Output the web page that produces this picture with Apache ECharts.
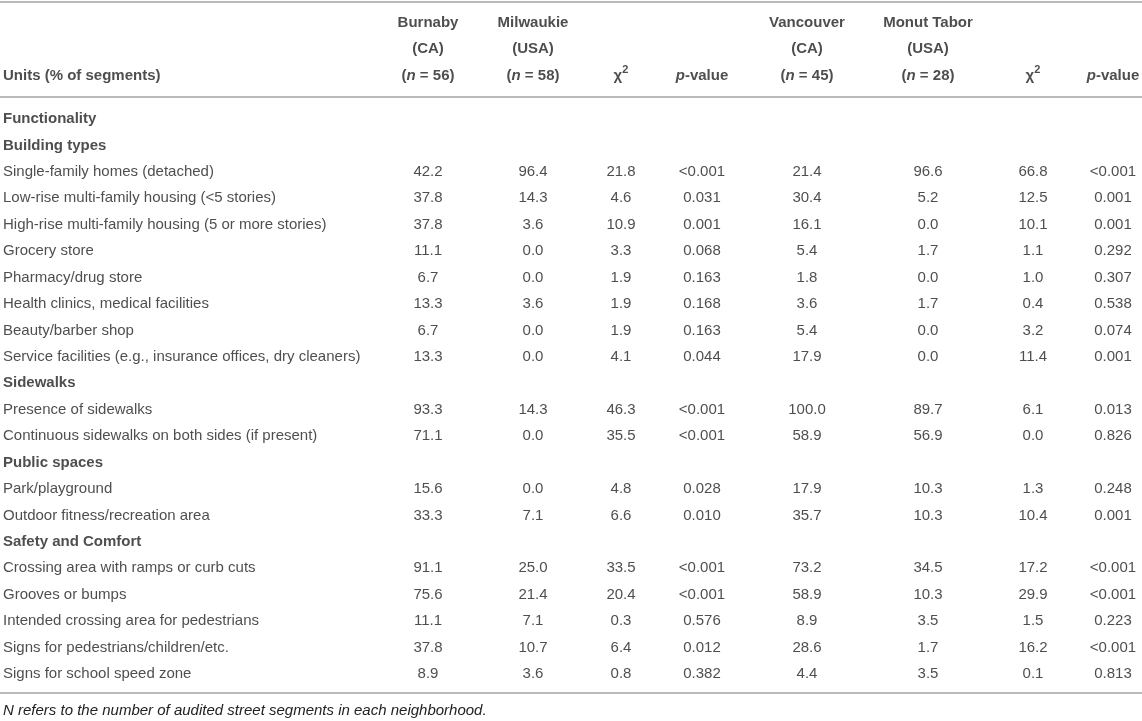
<!DOCTYPE html>
<html>
<head>
<meta charset="utf-8">
<title>Street segment audit</title>
<script src="https://cdn.jsdelivr.net/npm/echarts/dist/echarts.min.js"></script>
<style>
html, body { margin: 0; padding: 0; background: #fff; }
#main { width: 1142px; height: 721px; }
</style>
</head>
<body>
<div id="main"></div>
<script>
// 表格数据
var rowLabels = [
    'Functionality',
    'Building types',
    'Single-family homes (detached)',
    'Low-rise multi-family housing (<5 stories)',
    'High-rise multi-family housing (5 or more stories)',
    'Grocery store',
    'Pharmacy/drug store',
    'Health clinics, medical facilities',
    'Beauty/barber shop',
    'Service facilities (e.g., insurance offices, dry cleaners)',
    'Sidewalks',
    'Presence of sidewalks',
    'Continuous sidewalks on both sides (if present)',
    'Public spaces',
    'Park/playground',
    'Outdoor fitness/recreation area',
    'Safety and Comfort',
    'Crossing area with ramps or curb cuts',
    'Grooves or bumps',
    'Intended crossing area for pedestrians',
    'Signs for pedestrians/children/etc.',
    'Signs for school speed zone'
];
var sectionRows = ['Functionality', 'Building types', 'Sidewalks', 'Public spaces', 'Safety and Comfort'];

var burnaby   = [null, null, 42.2, 37.8, 37.8, 11.1, 6.7, 13.3, 6.7, 13.3, null, 93.3, 71.1, null, 15.6, 33.3, null, 91.1, 75.6, 11.1, 37.8, 8.9];
var milwaukie = [null, null, 96.4, 14.3, 3.6, 0.0, 0.0, 3.6, 0.0, 0.0, null, 14.3, 0.0, null, 0.0, 7.1, null, 25.0, 21.4, 7.1, 10.7, 3.6];
var chiA      = [null, null, 21.8, 4.6, 10.9, 3.3, 1.9, 1.9, 1.9, 4.1, null, 46.3, 35.5, null, 4.8, 6.6, null, 33.5, 20.4, 0.3, 6.4, 0.8];
var pA        = [null, null, '<0.001', '0.031', '0.001', '0.068', '0.163', '0.168', '0.163', '0.044', null, '<0.001', '<0.001', null, '0.028', '0.010', null, '<0.001', '<0.001', '0.576', '0.012', '0.382'];
var vancouver = [null, null, 21.4, 30.4, 16.1, 5.4, 1.8, 3.6, 5.4, 17.9, null, 100.0, 58.9, null, 17.9, 35.7, null, 73.2, 58.9, 8.9, 28.6, 4.4];
var tabor     = [null, null, 96.6, 5.2, 0.0, 1.7, 0.0, 1.7, 0.0, 0.0, null, 89.7, 56.9, null, 10.3, 10.3, null, 34.5, 10.3, 3.5, 1.7, 3.5];
var chiB      = [null, null, 66.8, 12.5, 10.1, 1.1, 1.0, 0.4, 3.2, 11.4, null, 6.1, 0.0, null, 1.3, 10.4, null, 17.2, 29.9, 1.5, 16.2, 0.1];
var pB        = [null, null, '<0.001', '0.001', '0.001', '0.292', '0.307', '0.538', '0.074', '0.001', null, '0.013', '0.826', null, '0.248', '0.001', null, '<0.001', '<0.001', '0.223', '<0.001', '0.813'];

// 表头
var colNames  = ['Burnaby', 'Milwaukie', '', '', 'Vancouver', 'Monut Tabor', '', ''];
var colPlaces = ['(CA)', '(USA)', '', '', '(CA)', '(USA)', '', ''];
var colN      = [56, 58, null, null, 45, 28, null, null];
var colStat   = ['n', 'n', 'chi', 'p', 'n', 'n', 'chi', 'p'];
var columns   = [burnaby, milwaukie, chiA, pA, vancouver, tabor, chiB, pB];
var footNote  = 'N refers to the number of audited street segments in each neighborhood.';

// 布局
var colX = [428, 533, 621, 702, 807, 928, 1033, 1113];
var FONT = '"Liberation Sans", Arial, Helvetica, sans-serif';
var TXT = '#222';
var RULE = '#a3a3a3';
var fs = 15;

var chart = document.getElementById('main');
var myChart = echarts.init(chart);

function fmtCell(v) {
    if (typeof v === 'number') return v.toFixed(1);
    return v;
}

function headText(c) {
    if (colStat[c] === 'chi') return '{b|χ}{sup|2}';
    if (colStat[c] === 'p') return '{bi|p}{b|-value}';
    return '{b|(}{bi|n}{b| = ' + colN[c] + ')}';
}

function rule() {
    return {
        show: true,
        onZero: false,
        lineStyle: { color: RULE, width: 1.5 }
    };
}

function loadingOption() {
    // 表头三行
    var headData = [];
    for (var c = 0; c < colX.length; c++) {
        if (colNames[c]) headData.push([colX[c], 0, '{b|' + colNames[c] + '}']);
        if (colPlaces[c]) headData.push([colX[c], 1, '{b|' + colPlaces[c] + '}']);
        headData.push([colX[c], 2, headText(c)]);
    }

    // 首列
    var labelData = [];
    for (var i = 0; i < rowLabels.length; i++) {
        var bold = sectionRows.indexOf(rowLabels[i]) >= 0;
        labelData.push({
            value: [3, i, rowLabels[i]],
            label: { fontWeight: bold ? 'bold' : 'normal' }
        });
    }

    var series = [{
        type: 'scatter',
        xAxisIndex: 0,
        yAxisIndex: 0,
        symbolSize: 0,
        silent: true,
        data: headData,
        label: {
            show: true,
            position: 'inside',
            formatter: function (p) { return p.value[2]; },
            rich: {
                b: { fontFamily: FONT, fontSize: fs, fontWeight: 'bold', color: TXT, lineHeight: 22 },
                bi: { fontFamily: FONT, fontSize: fs, fontWeight: 'bold', fontStyle: 'italic', color: TXT, lineHeight: 22 },
                sup: { fontFamily: FONT, fontSize: 11, fontWeight: 'bold', color: TXT, lineHeight: 11, verticalAlign: 'top' }
            }
        }
    }, {
        type: 'scatter',
        xAxisIndex: 1,
        yAxisIndex: 1,
        symbolSize: 0,
        silent: true,
        data: [{ value: [3, 2, 'Units (% of segments)'] }],
        label: {
            show: true,
            position: 'right',
            distance: 0,
            formatter: function (p) { return p.value[2]; },
            fontFamily: FONT, fontSize: fs, fontWeight: 'bold', color: TXT
        }
    }, {
        type: 'scatter',
        xAxisIndex: 2,
        yAxisIndex: 2,
        symbolSize: 0,
        silent: true,
        data: labelData,
        label: {
            show: true,
            position: 'right',
            distance: 0,
            formatter: function (p) { return p.value[2]; },
            fontFamily: FONT, fontSize: fs, color: TXT
        }
    }];

    // 数值列
    for (var k = 0; k < columns.length; k++) {
        var d = [];
        for (var r = 0; r < columns[k].length; r++) {
            if (columns[k][r] === null) continue;
            d.push([colX[k], r, fmtCell(columns[k][r])]);
        }
        series.push({
            type: 'scatter',
            xAxisIndex: 2,
            yAxisIndex: 2,
            symbolSize: 0,
            silent: true,
            data: d,
            label: {
                show: true,
                position: 'inside',
                formatter: function (p) { return p.value[2]; },
                fontFamily: FONT, fontSize: fs, color: TXT
            }
        });
    }

    var hidden = { show: false };
    var option = {
        animation: false,
        backgroundColor: '#fff',
        title: {
            text: footNote,
            left: 3,
            top: 703,
            padding: 0,
            textStyle: { fontFamily: FONT, fontSize: 15, fontStyle: 'italic', fontWeight: 'normal', color: TXT }
        },
        grid: [
            { left: 0, right: 0, top: 2, height: 95 },
            { left: 0, right: 0, top: 97, bottom: 28 }
        ],
        xAxis: [
            { type: 'value', gridIndex: 0, min: 0, max: 1142, position: 'top', axisLine: rule(), axisTick: hidden, axisLabel: hidden, splitLine: hidden },
            { type: 'value', gridIndex: 0, min: 0, max: 1142, position: 'bottom', axisLine: hidden, axisTick: hidden, axisLabel: hidden, splitLine: hidden },
            { type: 'value', gridIndex: 1, min: 0, max: 1142, position: 'top', axisLine: rule(), axisTick: hidden, axisLabel: hidden, splitLine: hidden },
            { type: 'value', gridIndex: 1, min: 0, max: 1142, position: 'bottom', axisLine: rule(), axisTick: hidden, axisLabel: hidden, splitLine: hidden }
        ],
        yAxis: [
            { type: 'value', gridIndex: 0, inverse: true, min: -0.77, max: 2.79, show: false },
            { type: 'value', gridIndex: 0, inverse: true, min: -0.77, max: 2.79, show: false },
            { type: 'value', gridIndex: 1, inverse: true, min: -0.83, max: 21.72, show: false }
        ],
        series: series
    };
    return option;
}

myChart.setOption(loadingOption());
</script>
</body>
</html>
